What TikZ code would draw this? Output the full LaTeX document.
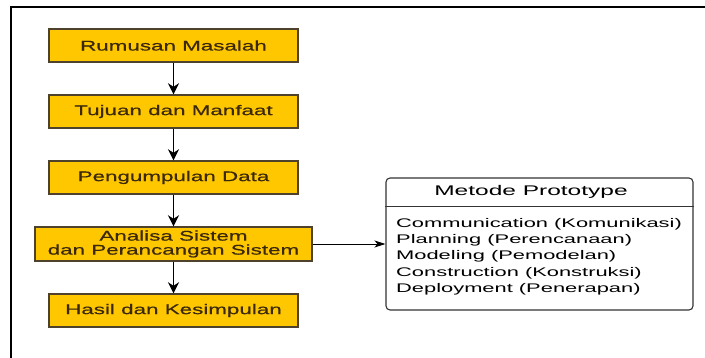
\documentclass[tikz,border=0pt]{standalone}
\usepackage{fontspec}
\setmainfont{Liberation Sans}
\newfontfamily\tahapfont[FakeStretch=1.6, FakeBold=0.5]{Liberation Sans}
\newfontfamily\metodefont[FakeStretch=1.75]{Liberation Sans}
\usepackage{xcolor}
\usepackage{tikz}
\usetikzlibrary{arrows.meta}

\definecolor{kuning}{RGB}{255,199,0}
\definecolor{garis}{RGB}{78,66,44}
\definecolor{teks}{RGB}{58,40,8}

\begin{document}
\begin{tikzpicture}[x=1pt, y=-1pt,
    tahap/.style={draw=garis, line width=1.4pt, fill=kuning, text=teks, inner sep=0pt,
      minimum width=249pt, minimum height=33pt, align=center,
      font=\tahapfont\fontsize{14}{16}\selectfont},
    panah/.style={-{Stealth[length=11pt, width=11pt, inset=3.5pt]}, line width=1.8pt},
    panahkecil/.style={-{Stealth[length=11pt, width=7pt, inset=3pt]}, line width=0.9pt}]
    \useasboundingbox (0,0) rectangle (705,358);

    % Frame
    \draw[line width=2pt] (11,358) -- (11,7) -- (705,7);

    % Tahapan penelitian
    \node[tahap] (rumusan) at (173.5, 45.5) {Rumusan Masalah};
    \node[tahap] (tujuan) at (173.5, 111.5) {Tujuan dan Manfaat};
    \node[tahap] (data) at (173.5, 177.5) {Pengumpulan Data};
    \node[tahap, minimum width=277pt, minimum height=34pt] (analisa) at (173.5, 244)
      {\raisebox{-2pt}{Analisa Sistem}\\dan Perancangan Sistem};
    \node[tahap] (hasil) at (173.5, 310.5) {Hasil dan Kesimpulan};

    % Metode prototype
    \node[draw=black!80, line width=1.1pt, rounded corners=4pt, fill=white,
      minimum width=307pt, minimum height=132pt] (proto) at (539.5, 244) {};
    \node[font=\metodefont\fontsize{14}{16}\selectfont, minimum height=28pt, inner sep=0pt]
      (judul) at (531, 192) {Metode Prototype};
    \draw[line width=1.1pt, black!80] (proto.west |- judul.south) -- (proto.east |- judul.south);
    \node[font=\metodefont\fontsize{12.5}{16.3}\selectfont, align=left, inner sep=0pt,
      anchor=north west] (tahapan) at (396, 218) {Communication (Komunikasi)\\
      Planning (Perencanaan)\\
      Modeling (Pemodelan)\\
      Construction (Konstruksi)\\
      Deployment (Penerapan)};

    % Arrows
    \draw[panah] (rumusan) -- (tujuan);
    \draw[panah] (tujuan) -- (data);
    \draw[panah] (data) -- (analisa);
    \draw[panah] (analisa) -- (hasil);
    \draw[panahkecil] (analisa) -- (proto);
\end{tikzpicture}
\end{document}
